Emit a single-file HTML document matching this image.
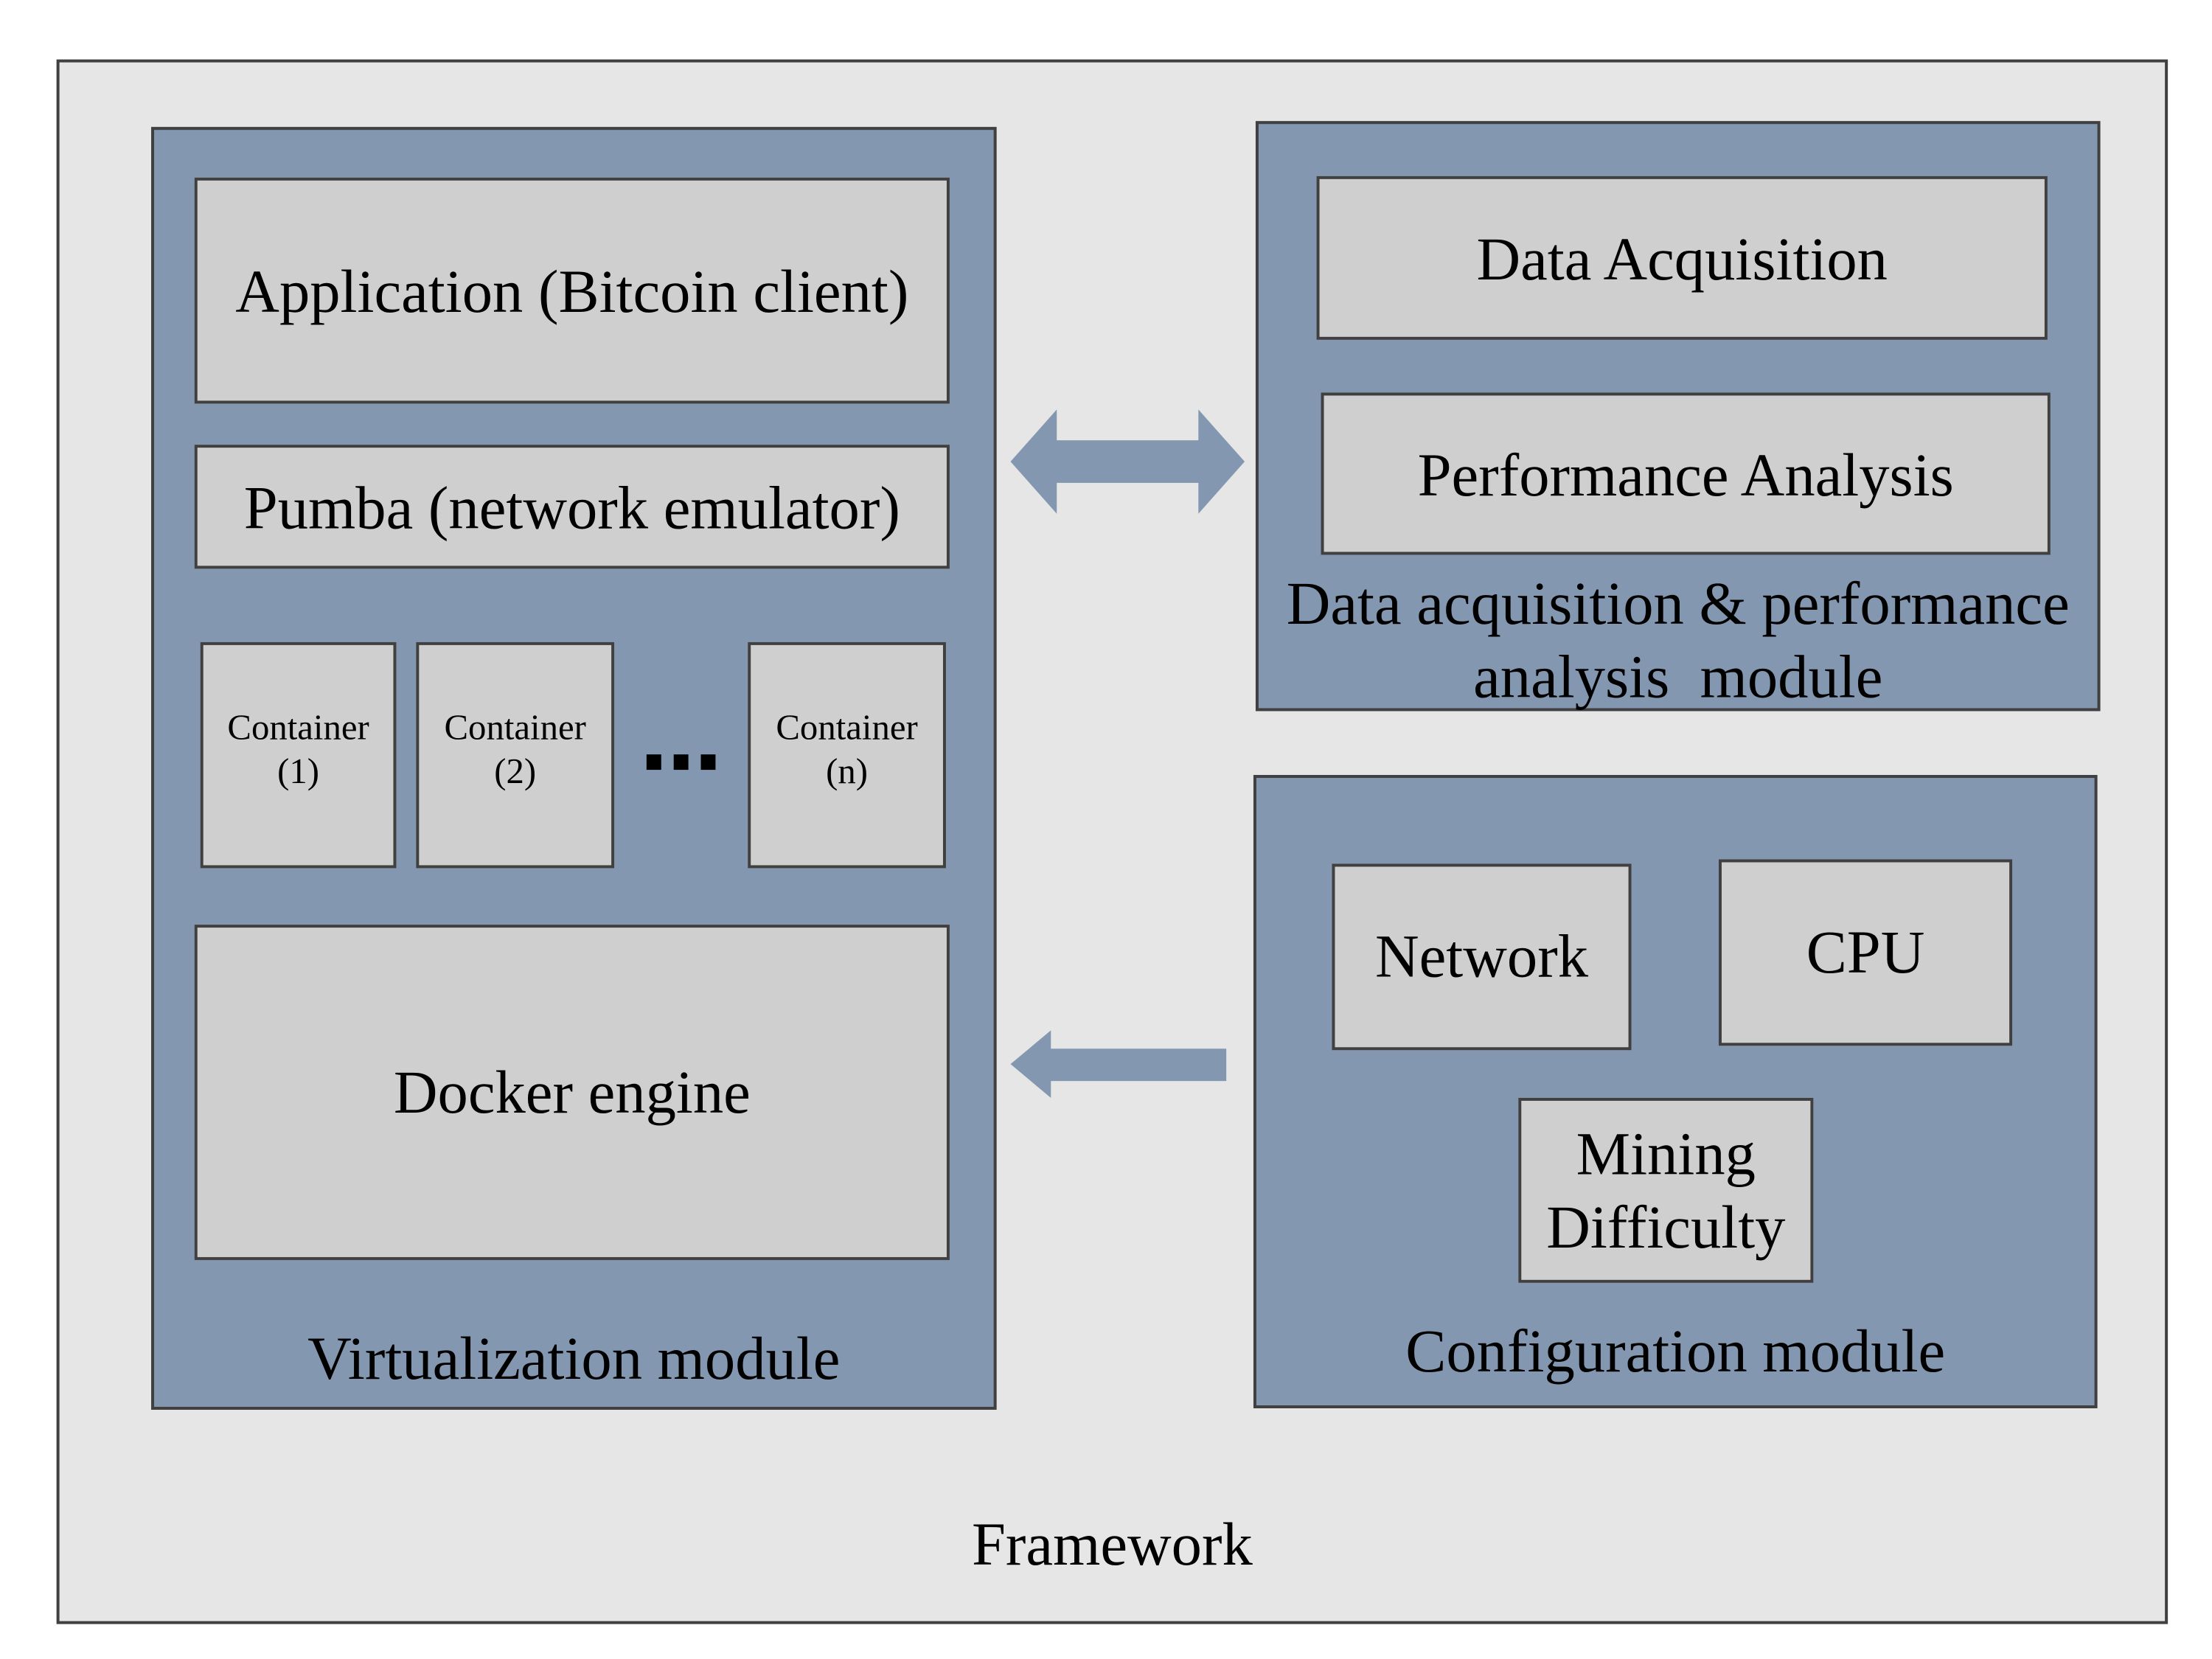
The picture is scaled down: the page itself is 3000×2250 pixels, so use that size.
<!DOCTYPE html>
<html><head><meta charset="utf-8"><style>
body{margin:0;width:3000px;height:2250px;background:#fff;position:relative;font-family:"Liberation Serif",serif;color:#000;overflow:hidden}
#w{position:absolute;left:0;top:0;width:3000px;height:2250px;transform:scale(0.9953);transform-origin:0 0}
div{position:absolute;box-sizing:border-box}
.b{border:4px solid #404040}
.blue{background:#8497b0}
.g{background:#d0cfd0;display:flex;align-items:center;justify-content:center;text-align:center;line-height:1.2}
.t{text-align:center;white-space:nowrap}
</style></head><body><div id="w">
<div class="b" style="left:77px;top:81px;width:2877px;height:2132px;background:#e6e6e6"></div>
<div class="b blue" style="left:206px;top:173px;width:1152px;height:1748px"></div>
<div class="b g" style="left:265px;top:242px;width:1029px;height:308px;font-size:83px;padding-top:4px">Application (Bitcoin client)</div>
<div class="b g" style="left:265px;top:606px;width:1029px;height:169px;font-size:83px;padding-top:4px">Pumba (network emulator)</div>
<div class="b g" style="left:273px;top:875px;width:267px;height:308px;font-size:49px;line-height:60px;padding-bottom:16px">Container<br>(1)</div>
<div class="b g" style="left:567px;top:875px;width:270px;height:308px;font-size:49px;line-height:60px;padding-bottom:16px">Container<br>(2)</div>
<div class="b g" style="left:1019px;top:875px;width:270px;height:308px;font-size:49px;line-height:60px;padding-bottom:16px">Container<br>(n)</div>
<div style="left:881px;top:1028px;width:20px;height:21px;background:#000"></div>
<div style="left:918px;top:1028px;width:20px;height:21px;background:#000"></div>
<div style="left:955px;top:1028px;width:20px;height:21px;background:#000"></div>
<div class="b g" style="left:265px;top:1260px;width:1029px;height:457px;font-size:83px">Docker engine</div>
<div class="t" style="left:206px;top:1803px;width:1152px;font-size:83px">Virtualization module</div>

<div class="b blue" style="left:1711px;top:165px;width:1151px;height:804px"></div>
<div class="b g" style="left:1794px;top:240px;width:996px;height:223px;font-size:83px;padding-top:4px">Data Acquisition</div>
<div class="b g" style="left:1800px;top:535px;width:994px;height:221px;font-size:83px;padding-top:4px">Performance Analysis</div>
<div class="t" style="left:1711px;top:772px;width:1151px;font-size:83px;line-height:100px">Data acquisition &amp; performance<br>analysis&nbsp; module</div>

<div class="b blue" style="left:1708px;top:1056px;width:1150px;height:863px"></div>
<div class="b g" style="left:1815px;top:1177px;width:408px;height:254px;font-size:83px">Network</div>
<div class="b g" style="left:2342px;top:1171px;width:400px;height:254px;font-size:83px">CPU</div>
<div class="b g" style="left:2069px;top:1496px;width:402px;height:252px;font-size:83px;line-height:100px">Mining<br>Difficulty</div>
<div class="t" style="left:1708px;top:1793px;width:1150px;font-size:83px">Configuration module</div>

<div class="t" style="left:77px;top:2056px;width:2877px;font-size:83px">Framework</div>

<svg style="position:absolute;left:0;top:0" width="3000" height="2250">
<polygon fill="#8497b0" points="1377,629 1440,558 1440,600 1633,600 1633,558 1696,629 1633,700 1633,658 1440,658 1440,700"/>
<polygon fill="#8497b0" points="1377,1450 1432,1404 1432,1429 1671,1429 1671,1473 1432,1473 1432,1496"/>
</svg>
</div></body></html>
